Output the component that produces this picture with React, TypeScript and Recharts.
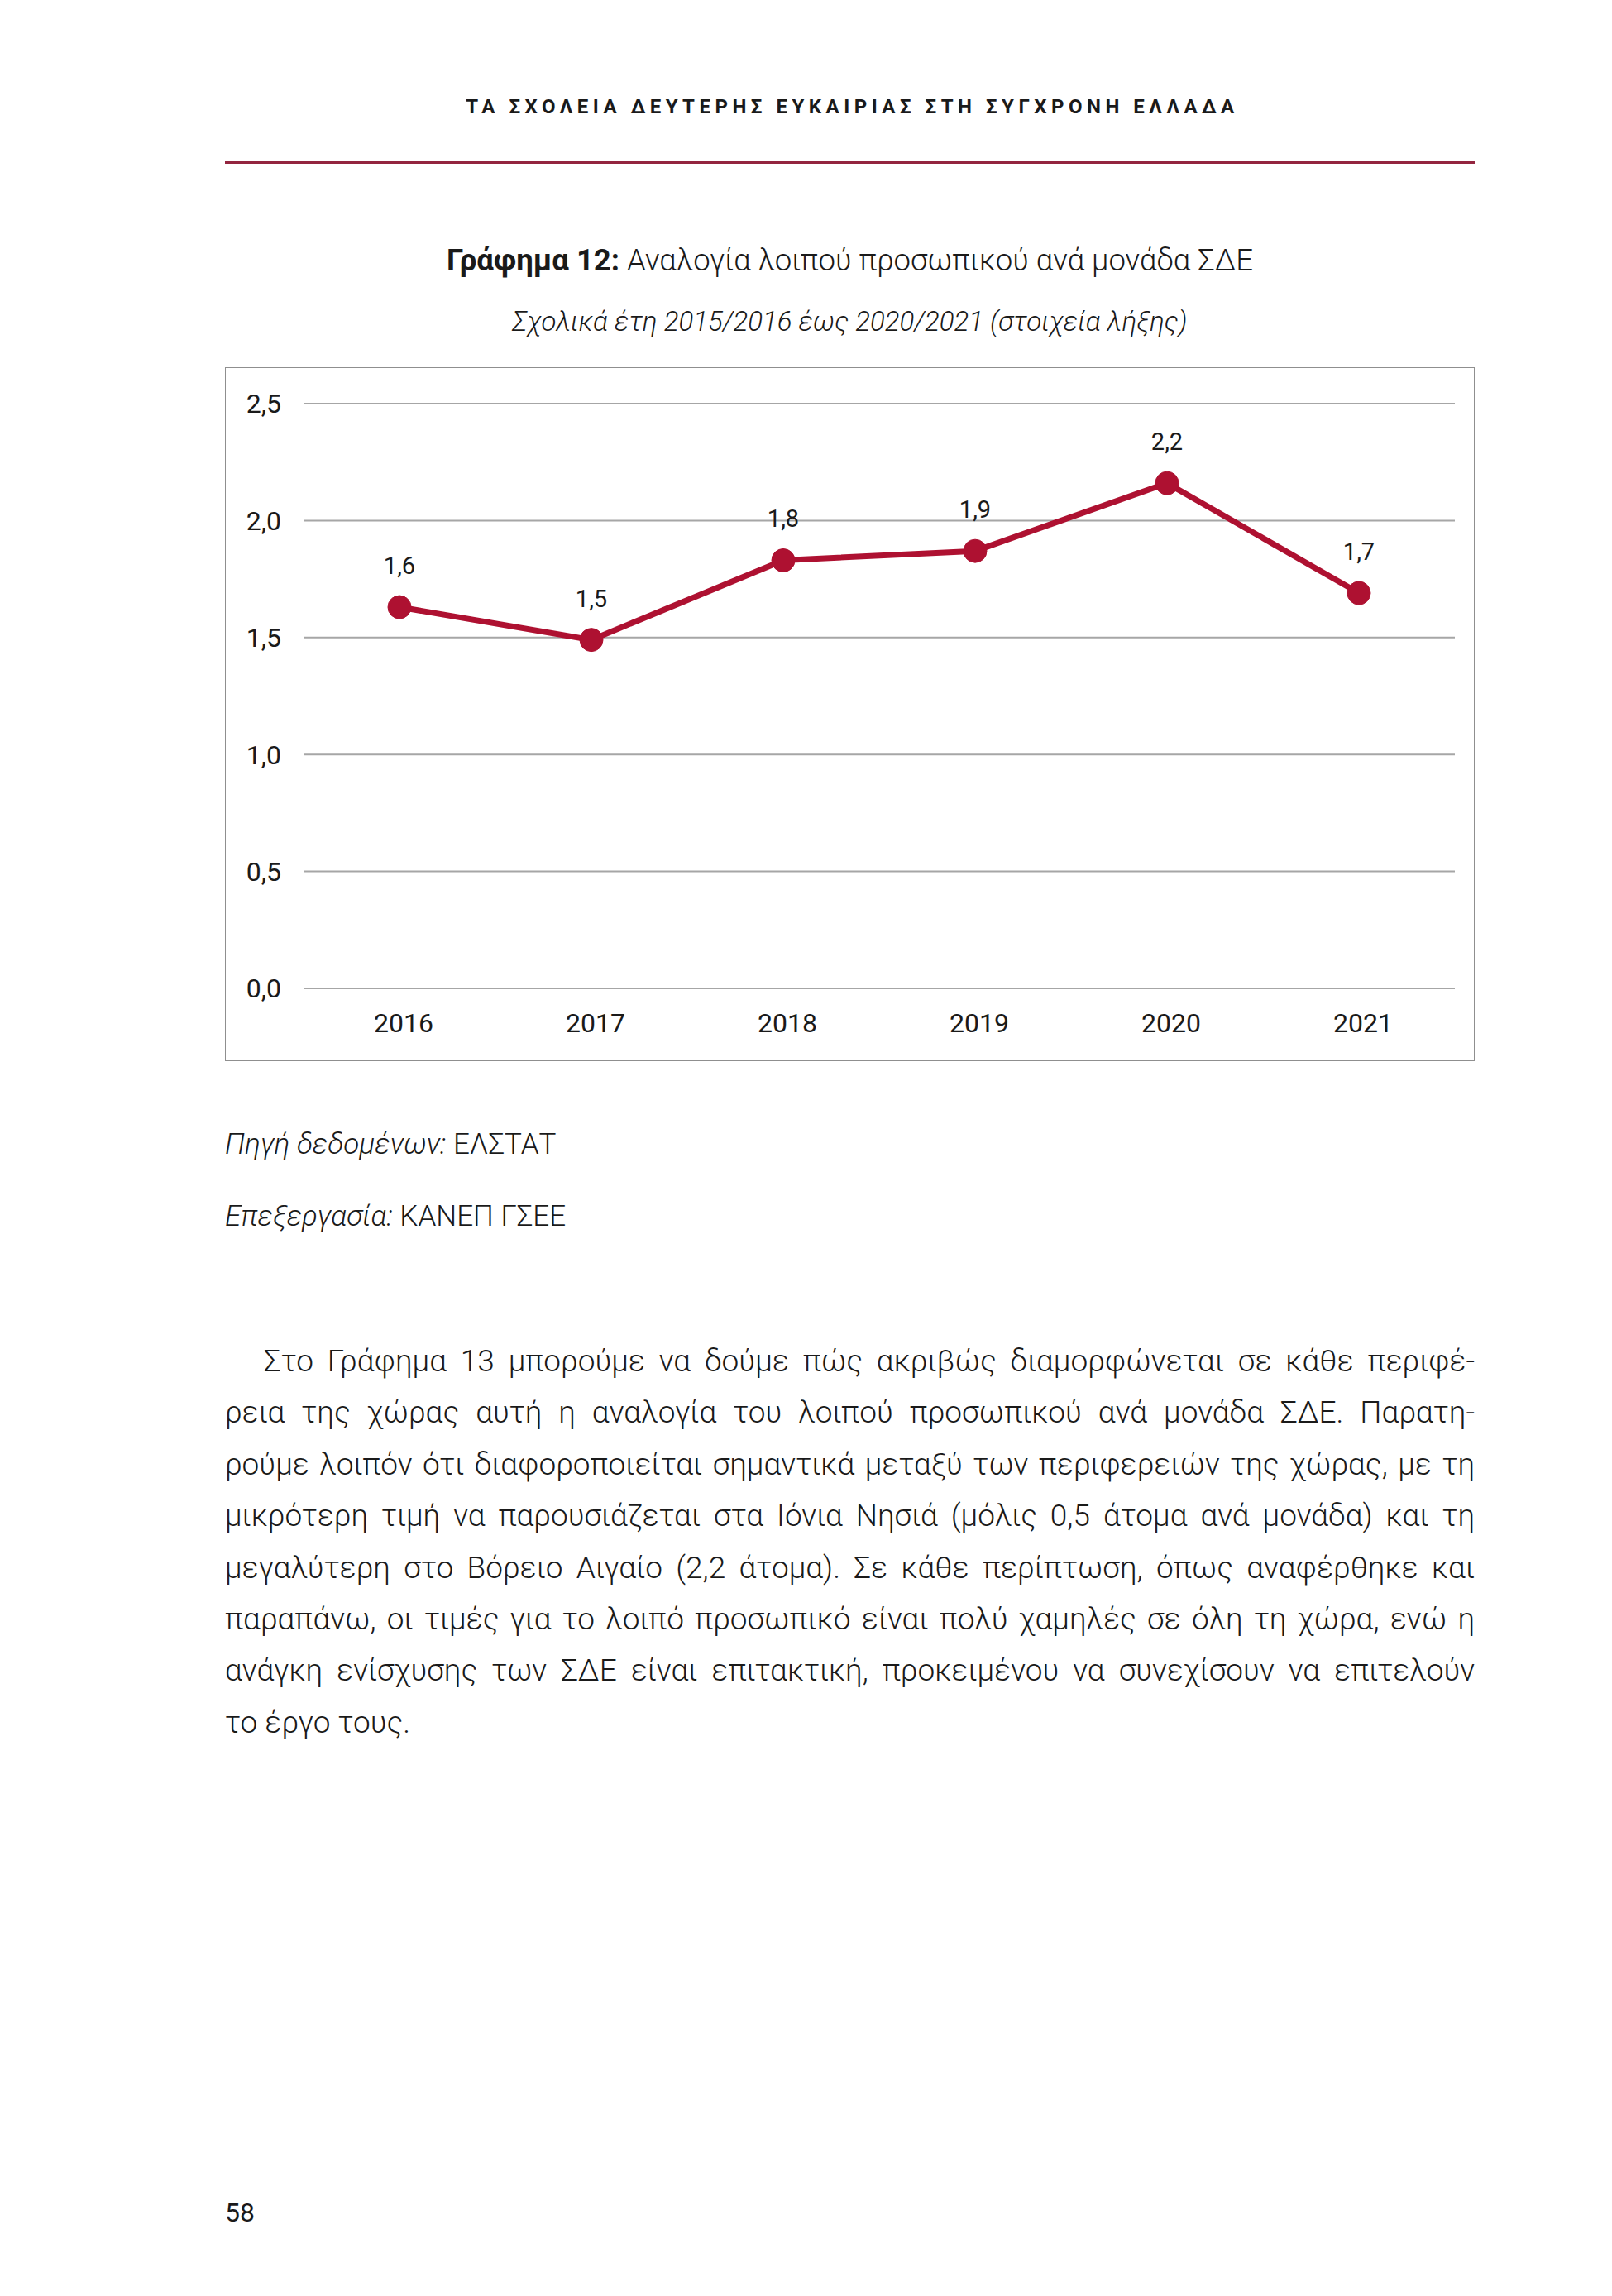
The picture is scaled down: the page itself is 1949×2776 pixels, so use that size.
// Σελίδα με το Γράφημα 12: αναλογία λοιπού προσωπικού ανά μονάδα ΣΔΕ
import { CartesianGrid, LabelList, Line, LineChart, XAxis, YAxis } from "recharts";

// έτη (στοιχεία λήξης)
const YEARS = ["2016", "2017", "2018", "2019", "2020", "2021"];
// άτομα λοιπού προσωπικού ανά μονάδα
const RATIO = [1.63, 1.49, 1.83, 1.87, 2.16, 1.69];
// τιμές του άξονα Υ
const Y_TICKS = [0, 0.5, 1, 1.5, 2, 2.5];

// κείμενο κάτω από το γράφημα, γραμμή προς γραμμή όπως στη σελίδα
const BODY_LINES = [
  "Στο Γράφημα 13 μπορούμε να δούμε πώς ακριβώς διαμορφώνεται σε κάθε περιφέ-",
  "ρεια της χώρας αυτή η αναλογία του λοιπού προσωπικού ανά μονάδα ΣΔΕ. Παρατη-",
  "ρούμε λοιπόν ότι διαφοροποιείται σημαντικά μεταξύ των περιφερειών της χώρας, με τη",
  "μικρότερη τιμή να παρουσιάζεται στα Ιόνια Νησιά (μόλις 0,5 άτομα ανά μονάδα) και τη",
  "μεγαλύτερη στο Βόρειο Αιγαίο (2,2 άτομα). Σε κάθε περίπτωση, όπως αναφέρθηκε και",
  "παραπάνω, οι τιμές για το λοιπό προσωπικό είναι πολύ χαμηλές σε όλη τη χώρα, ενώ η",
  "ανάγκη ενίσχυσης των ΣΔΕ είναι επιτακτική, προκειμένου να συνεχίσουν να επιτελούν",
  "το έργο τους.",
];

const data = YEARS.map((year, i) => ({ year, value: RATIO[i] }));

const RED = "#ae1131";
const FONT = "Roboto, 'Noto Sans', sans-serif";

// 1,5 αντί για 1.5
const fmt = (v: any) => (Math.round(Number(v) * 10) / 10).toFixed(1).replace(".", ",");

export default function App() {
  return (
    <div
      style={{
        position: "absolute",
        left: 0,
        top: 0,
        width: 1949,
        height: 2776,
        background: "#fff",
        fontFamily: FONT,
        color: "#1a1a1a",
      }}
    >
      {/* κεφαλίδα σελίδας */}
      <div
        style={{
          position: "absolute",
          left: 275,
          top: 113,
          width: 1511,
          lineHeight: "32px",
          fontSize: 24,
          fontWeight: 700,
          letterSpacing: 5.5,
          textAlign: "center",
        }}
      >
        ΤΑ ΣΧΟΛΕΙΑ ΔΕΥΤΕΡΗΣ ΕΥΚΑΙΡΙΑΣ ΣΤΗ ΣΥΓΧΡΟΝΗ ΕΛΛΑΔΑ
      </div>
      <div style={{ position: "absolute", left: 272, top: 195, width: 1511, height: 3, background: "#93253f" }} />

      {/* τίτλος */}
      <div style={{ position: "absolute", left: 272, top: 290, width: 1511, lineHeight: "50px", fontSize: 36.5, textAlign: "center" }}>
        <span style={{ fontWeight: 700 }}>Γράφημα 12:</span>
        <span style={{ fontWeight: 300 }}> Αναλογία λοιπού προσωπικού ανά μονάδα ΣΔΕ</span>
      </div>
      <div
        style={{
          position: "absolute",
          left: 272,
          top: 364,
          width: 1511,
          lineHeight: "50px",
          fontSize: 33,
          fontWeight: 300,
          fontStyle: "italic",
          textAlign: "center",
        }}
      >
        Σχολικά έτη 2015/2016 έως 2020/2021 (στοιχεία λήξης)
      </div>

      {/* γράφημα */}
      <div
        style={{
          position: "absolute",
          left: 272,
          top: 444,
          width: 1511,
          height: 839,
          border: "1.5px solid #8f8f8f",
          boxSizing: "border-box",
        }}
      >
        <LineChart width={1508} height={836} data={data} margin={{ top: 43, right: 22, bottom: 0, left: 0 }}>
          <CartesianGrid vertical={false} stroke="#a6a6a6" strokeWidth={2} />
          <XAxis
            dataKey="year"
            axisLine={false}
            tickLine={false}
            tickSize={0}
            tickMargin={30}
            height={86}
            padding={{ left: 116, right: 116 }}
            tick={{ fontSize: 32, fill: "#1a1a1a", fontFamily: FONT, dx: 5 }}
          />
          <YAxis
            domain={[0, 2.5]}
            ticks={Y_TICKS}
            axisLine={false}
            tickLine={false}
            tickSize={0}
            tickMargin={27}
            width={94}
            tickFormatter={fmt}
            tick={{ fontSize: 32, fill: "#1a1a1a", fontFamily: FONT }}
          />
          <Line
            type="linear"
            dataKey="value"
            stroke={RED}
            strokeWidth={7}
            dot={{ r: 14, fill: RED, stroke: RED, strokeWidth: 1 }}
            activeDot={false}
            isAnimationActive={false}
          >
            <LabelList
              dataKey="value"
              position="top"
              offset={40}
              formatter={fmt}
              style={{ fontSize: 29, fill: "#1a1a1a", fontFamily: FONT }}
            />
          </Line>
        </LineChart>
      </div>

      {/* πηγή */}
      <div style={{ position: "absolute", left: 272, top: 1359, lineHeight: "50px", fontSize: 35, fontWeight: 300 }}>
        <i>Πηγή δεδομένων:</i> ΕΛΣΤΑΤ
      </div>
      <div style={{ position: "absolute", left: 272, top: 1446, lineHeight: "50px", fontSize: 35, fontWeight: 300 }}>
        <i>Επεξεργασία:</i> ΚΑΝΕΠ ΓΣΕΕ
      </div>

      {/* κείμενο */}
      <div style={{ position: "absolute", left: 272, top: 1615, width: 1511, fontSize: 37, fontWeight: 300, lineHeight: "62.4px" }}>
        {BODY_LINES.map((line, i) => (
          <div
            key={i}
            style={{
              whiteSpace: "nowrap",
              textAlign: "justify",
              textAlignLast: i === BODY_LINES.length - 1 ? "left" : "justify",
              paddingLeft: i === 0 ? 47 : 0,
            }}
          >
            {line}
          </div>
        ))}
      </div>

      {/* αριθμός σελίδας */}
      <div style={{ position: "absolute", left: 272, top: 2655, lineHeight: "40px", fontSize: 32 }}>58</div>
    </div>
  );
}
